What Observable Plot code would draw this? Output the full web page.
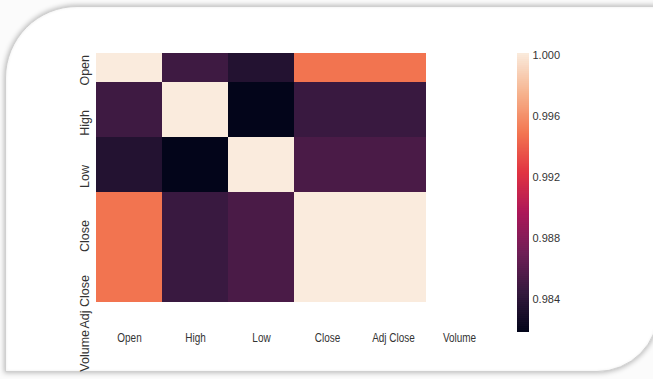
<!DOCTYPE html>
<html>
<head>
<meta charset="utf-8">
<script src="https://cdn.jsdelivr.net/npm/d3@7"></script>
<script src="https://cdn.jsdelivr.net/npm/@observablehq/plot@0.6"></script>
<style>
  html, body { margin: 0; padding: 0; background: #ffffff; }
  #wrap { position: relative; width: 653px; height: 379px; overflow: hidden; background: #fbfbfb; }
  #frame {
    position: absolute; left: 5px; top: 6px; width: 652px; height: 364px;
    background: #ffffff;
    border: 1px solid #d0d0d0;
    border-top-left-radius: 72px;
    border-bottom-right-radius: 62px;
    box-shadow: 0 0 5px 1px rgba(0,0,0,0.25), inset 0 0 3px rgba(0,0,0,0.08);
  }
  #wrap svg { position: absolute; left: 0; top: 0; }
</style>
</head>
<body>
<div id="wrap"><div id="frame"></div></div>
<script>
// ---- data ----
const rows = ["Open", "High", "Low", "Close", "Adj Close", "Volume"];
const cols = ["Open", "High", "Low", "Close", "Adj Close", "Volume"];
const openRow     = [1.0,     0.98473, 0.98339, 0.99468, 0.99468, NaN];
const highRow     = [0.98473, 1.0,     0.9817,  0.98451, 0.98451, NaN];
const lowRow      = [0.98339, 0.9817,  1.0,     0.98523, 0.98523, NaN];
const closeRow    = [0.99468, 0.98451, 0.98523, 1.0,     1.0,     NaN];
const adjCloseRow = [0.99468, 0.98451, 0.98523, 1.0,     1.0,     NaN];
const volumeRow   = [NaN,     NaN,     NaN,     NaN,     NaN,     NaN];
const colorbarTicks = [0.984, 0.988, 0.992, 0.996, 1.000];
// seaborn "rocket" colormap stops
const rocketStops = ["#03051a", "#35193e", "#701f57", "#ad1759", "#e13342", "#f37651", "#f6b48f", "#faebdd"];

// ---- build table ----
const matrix = [openRow, highRow, lowRow, closeRow, adjCloseRow, volumeRow];
const cells = [];
matrix.forEach((r, i) => r.forEach((v, j) => {
  if (!isNaN(v)) cells.push({row: rows[i], col: cols[j], value: v});
}));
const lo = d3.min(cells, d => d.value);
const hi = d3.max(cells, d => d.value);
const rocket = d3.piecewise(d3.interpolateRgb, rocketStops);
const colorScale = {type: "linear", domain: [lo, hi], interpolate: rocket};

const W = 653, H = 379;
const top0 = 53, bot0 = 332;
const half = (bot0 - top0) / (rows.length - 1) / 2;
const textColor = "#333333";
const font = "'Liberation Sans', Arial, sans-serif";

const heat = Plot.plot({
  width: W, height: H,
  marginLeft: 93, marginRight: 159, marginTop: top0, marginBottom: H - bot0,
  style: "background: transparent; overflow: visible;",
  x: {domain: cols, padding: 0, axis: null},
  y: {domain: rows, padding: 0, range: [top0 - half, bot0 + half], axis: null},
  color: colorScale,
  marks: [
    Plot.cell(cells, {x: "col", y: "row", fill: "value", inset: 0, clip: true}),
    Plot.text(cols, {x: d => d, text: d => d, frameAnchor: "bottom", dy: 9,
      fill: textColor, fontSize: 12, fontFamily: font}),
    Plot.text(rows, {y: d => d, text: d => d, frameAnchor: "left", dx: -9, rotate: -90,
      textAnchor: "end", fill: textColor, fontSize: 12.5, fontFamily: font})
  ]
});

const nSteps = 140;
const step = (hi - lo) / nSteps;
const ramp = d3.range(nSteps).map(i => lo + i * step);

const bar = Plot.plot({
  width: W, height: H,
  marginLeft: 517, marginRight: W - 529, marginTop: top0, marginBottom: H - bot0,
  style: "background: transparent; overflow: visible;",
  x: {domain: [0, 1], axis: null},
  y: {domain: [lo, hi], axis: null},
  color: colorScale,
  marks: [
    Plot.rect(ramp, {x1: 0, x2: 1, y1: d => d, y2: d => Math.min(hi, d + step * 1.5), fill: d => d + step / 2}),
    Plot.text(colorbarTicks, {y: d => d, text: d => d3.format(".3f")(d), frameAnchor: "right", dx: 3, dy: 2,
      textAnchor: "start", fill: textColor, fontSize: 11, fontFamily: font})
  ]
});

const wrap = document.getElementById("wrap");
wrap.appendChild(heat);
wrap.appendChild(bar);

// the reference's horizontal axis labels look horizontally condensed:
// append a horizontal scale about each label's own anchor point
function condense(svg, index, k) {
  const groups = svg.querySelectorAll("g[aria-label='text']");
  const g = groups[index];
  if (!g) return;
  g.querySelectorAll("text").forEach(t => {
    let tr = t.getAttribute("transform") || "";
    const x = t.getAttribute("x"), y = t.getAttribute("y");
    if (x !== null || y !== null) {
      tr += ` translate(${x || 0},${y || 0})`;
      t.removeAttribute("x");
      t.removeAttribute("y");
    }
    t.setAttribute("transform", `${tr} scale(${k},1)`);
  });
}
condense(heat, 0, 0.83);
</script>
</body>
</html>
